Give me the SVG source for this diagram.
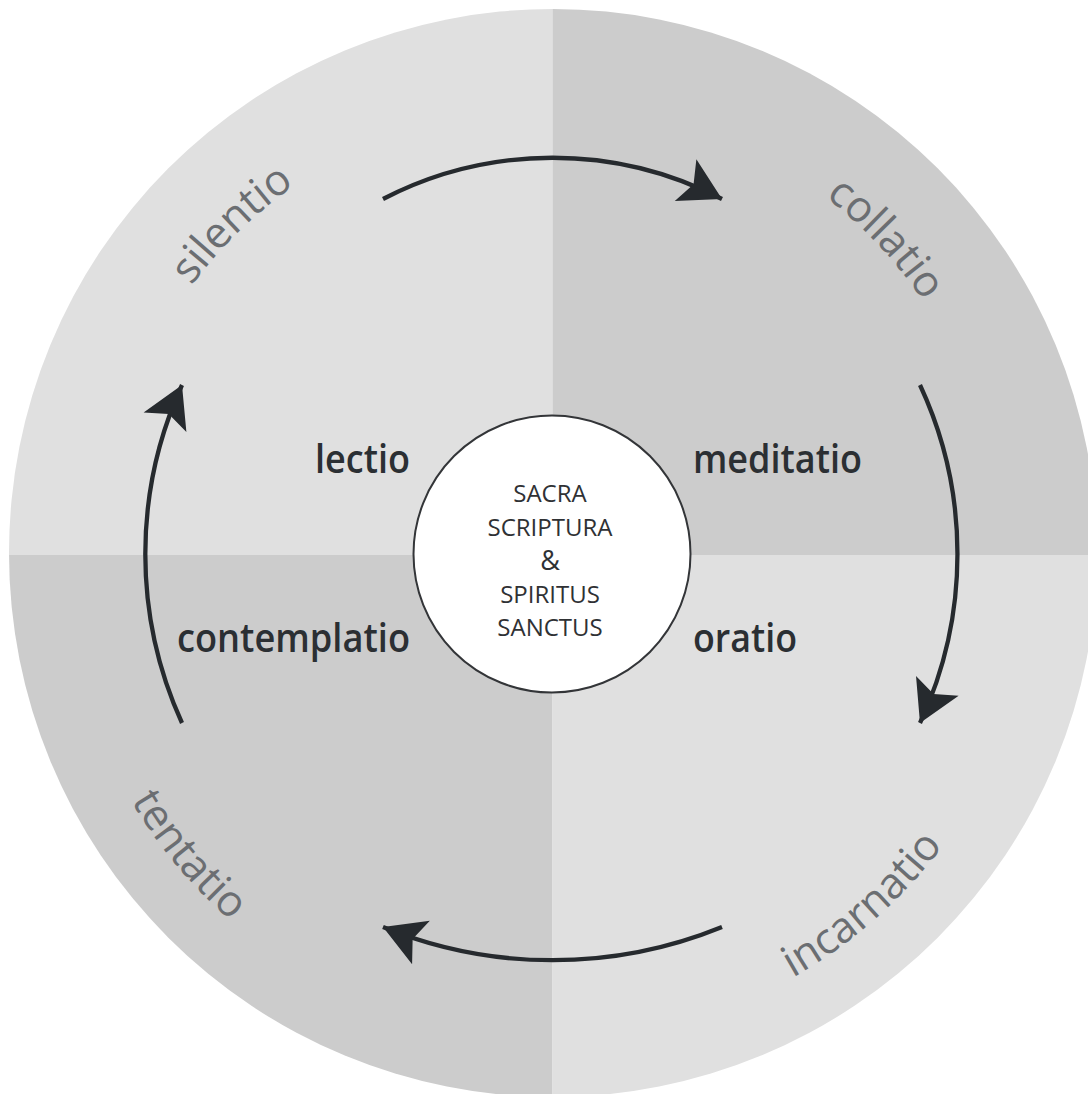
<svg xmlns="http://www.w3.org/2000/svg" xmlns:xlink="http://www.w3.org/1999/xlink" width="1088" height="1094" viewBox="0 0 1088 1094">
  <style>
    .light { fill: #e0e0e0; }
    .dark { fill: #cccccc; }
    .outer { font-family: "Open Sans", "Liberation Sans", sans-serif; font-size: 43px; fill: #6b6e72; }
    .stage { font-family: "Open Sans", "Liberation Sans", sans-serif; font-size: 40px; font-weight: 600; fill: #2b2f33; }
    .core { font-family: "Open Sans", "Liberation Sans", sans-serif; font-size: 24px; fill: #2f3134; text-anchor: middle; }
    .arrow { fill: none; stroke: #262a2e; stroke-width: 4.3; }
  </style>
  <defs>
    <clipPath id="disc">
      <circle cx="553" cy="553" r="544"/>
    </clipPath>
    <marker id="head" markerUnits="userSpaceOnUse" viewBox="-44 -26 48 52" markerWidth="48" markerHeight="52" refX="0" refY="0" orient="auto">
      <path d="M0,0 L-41,-23.5 L-32,0 L-41,23.5 Z" fill="#262a2e"/>
    </marker>
    <path id="topArc" d="M328,164 A448,448 0 0 1 776,164"/>
    <path id="botArc" d="M128.5,796.5 A489,489 0 0 0 975.5,796.5"/>
  </defs>

  <g id="background" clip-path="url(#disc)">
    <rect class="light" x="0" y="0" width="552.5" height="555"/>
    <rect class="dark" x="552.5" y="0" width="540" height="555"/>
    <rect class="dark" x="0" y="555" width="552.5" height="545"/>
    <rect class="light" x="552.5" y="555" width="540" height="545"/>
  </g>

  <g id="connectors">
    <path class="arrow" d="M383,199 A369,369 0 0 1 722,199" marker-end="url(#head)"/>
    <path class="arrow" d="M920,385 A400,400 0 0 1 920,723" marker-end="url(#head)"/>
    <path class="arrow" d="M722,927 A449,449 0 0 1 383,927" marker-end="url(#head)"/>
    <path class="arrow" d="M182,723 A407.5,407.5 0 0 1 182,385" marker-end="url(#head)"/>
  </g>

  <g id="silentio" transform="rotate(-44.3 552 552)">
    <text class="outer"><textPath xlink:href="#topArc" href="#topArc" startOffset="50%" text-anchor="middle">silentio</textPath></text>
  </g>
  <g id="collatio" transform="rotate(46.8 552 552)">
    <text class="outer"><textPath xlink:href="#topArc" href="#topArc" startOffset="50%" text-anchor="middle">collatio</textPath></text>
  </g>
  <g id="tentatio" transform="rotate(50.2 552 552)">
    <text class="outer"><textPath xlink:href="#botArc" href="#botArc" startOffset="50%" text-anchor="middle">tentatio</textPath></text>
  </g>
  <g id="incarnatio" transform="rotate(-41.3 552 552)">
    <text class="outer"><textPath xlink:href="#botArc" href="#botArc" startOffset="50%" text-anchor="middle">incarnatio</textPath></text>
  </g>

  <g id="lectio">
    <text class="stage" x="315" y="473" textLength="95" lengthAdjust="spacingAndGlyphs">lectio</text>
  </g>
  <g id="meditatio">
    <text class="stage" x="693" y="473" textLength="169" lengthAdjust="spacingAndGlyphs">meditatio</text>
  </g>
  <g id="contemplatio">
    <text class="stage" x="177" y="652" textLength="233" lengthAdjust="spacingAndGlyphs">contemplatio</text>
  </g>
  <g id="oratio">
    <text class="stage" x="693" y="652" textLength="104" lengthAdjust="spacingAndGlyphs">oratio</text>
  </g>

  <g id="center">
    <circle cx="552" cy="554" r="138.5" fill="#ffffff" stroke="#333538" stroke-width="2"/>
    <text class="core" x="550" y="502">SACRA</text>
    <text class="core" x="550" y="536">SCRIPTURA</text>
    <text class="core" x="550" y="570" style="font-size:27px">&amp;</text>
    <text class="core" x="550" y="603">SPIRITUS</text>
    <text class="core" x="550" y="636">SANCTUS</text>
  </g>
</svg>
